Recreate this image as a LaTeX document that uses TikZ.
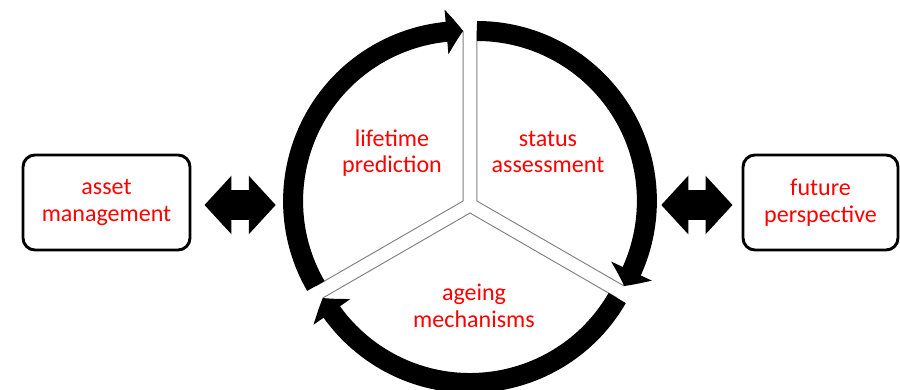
\documentclass[tikz,border=0pt]{standalone}
\usepackage{fontspec}
\setmainfont{Carlito}
\usetikzlibrary{arrows.meta, bending, positioning}

\begin{document}
\begin{tikzpicture} [
						x=0.03cm, y=0.03cm,
						every node/.style={font=\fontsize{20.5}{23}\selectfont, text=red, align=center},
						box/.style={draw=black, line width=2.5pt, rounded corners=0.36cm, minimum height=2.85cm},
						caption/.style={inner sep=0pt, anchor=base},
						divider/.style={draw=black!50, line width=0.8pt},
						ring/.style={line width=0.6cm, -{Triangle[bend, width=1.32cm, length=0.5cm]}},
						link/.style={line width=0.9cm, {Triangle[width=1.71cm, length=0.81cm]}-{Triangle[width=1.71cm, length=0.81cm]}}
					]

\useasboundingbox (0,0) rectangle (900,389);
\clip (0,0) rectangle (900,389);

\coordinate (hub) at (470,184);
\coordinate (pa) at (463.1,188);
\coordinate (pb) at (476.9,188);
\coordinate (pc) at (470,176);
\node (wheel) [circle, minimum size=10.98cm, inner sep=0pt] at (hub) {};

% sectors
\draw[divider] (pa) ++(90:170) -- (pa) -- ++(210:170);
\draw[divider] (pb) ++(90:170) -- (pb) -- ++(-30:170);
\draw[divider] (pc) ++(-30:170) -- (pc) -- ++(210:170);

% ring
\draw[ring] (pa) ++(210:170) arc[start angle=210, end angle=90, radius=170];
\draw[ring] (pb) ++(90:170) arc[start angle=90, end angle=-30, radius=170];
\draw[ring] (pc) ++(-30:170) arc[start angle=-30, end angle=-150, radius=170];

\node (lifetime) [caption] at (392,216) {lifetime\\prediction};
\node (status) [caption] at (548,216) {status\\assessment};
\node (ageing) [caption] at (474,62) {ageing\\mechanisms};

\node (asset) [box, minimum width=5.01cm] at (106.5,186.5) {asset\\management};
\node (future) [box, minimum width=4.65cm] at (820.5,186.5) {future\\perspective};

\draw[link, shorten <=0.39cm, shorten >=0.33cm] (asset.east |- hub) -- (wheel.west);
\draw[link, shorten <=0.24cm, shorten >=0.27cm] (wheel.east) -- (future.west |- hub);
\end{tikzpicture}
\end{document}
